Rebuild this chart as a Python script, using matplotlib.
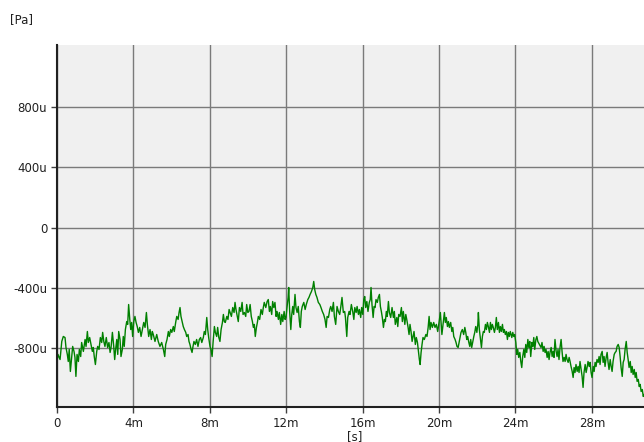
import matplotlib
matplotlib.use("Agg")
import matplotlib.pyplot as plt
from matplotlib.ticker import FixedLocator
import numpy as np

# ---- data (time in ms, pressure in micro-pascal) ----
t_ms_a = [0.00, 0.05, 0.16, 0.25, 0.33, 0.42, 0.47, 0.54, 0.59, 0.64, 0.70, 0.77, 0.82, 0.89,
          0.94, 0.99, 1.05, 1.12, 1.17, 1.24, 1.29, 1.38, 1.47, 1.52, 1.59, 1.64, 1.71, 1.78,
          1.85, 1.90, 1.95, 2.01, 2.08, 2.13, 2.20, 2.27, 2.34, 2.39, 2.45, 2.51, 2.58, 2.65,
          2.72, 2.78, 2.83, 2.90, 2.97, 3.02, 3.07, 3.13, 3.18, 3.23, 3.30, 3.35, 3.42, 3.47,
          3.52, 3.58, 3.65, 3.70, 3.75, 3.81, 3.86, 3.91, 3.96, 4.02, 4.08, 4.14, 4.20, 4.26,
          4.33, 4.40, 4.47, 4.54, 4.61, 4.68, 4.73, 4.80, 4.87, 4.94, 4.99, 5.04, 5.13]
p_upa_a = [-889, -842, -876, -756, -723, -730, -796, -842, -889, -809, -955, -856, -789, -822,
           -862, -988, -842, -889, -809, -856, -763, -822, -743, -789, -690, -763, -730, -776,
           -822, -796, -856, -909, -822, -789, -809, -730, -763, -696, -756, -789, -730, -796,
           -763, -829, -796, -696, -789, -876, -809, -743, -842, -690, -743, -856, -809, -723,
           -789, -677, -624, -643, -511, -610, -677, -630, -723, -624, -590, -630, -657, -696,
           -663, -723, -677, -630, -663, -564, -643, -723, -677, -743, -690, -710, -756]

t_ms_b = [5.22, 5.30, 5.39, 5.48, 5.57, 5.64, 5.69, 5.76, 5.83, 5.88, 5.95, 6.01, 6.09, 6.14,
          6.22, 6.27, 6.34, 6.39, 6.44, 6.49, 6.55, 6.61, 6.67, 6.74, 6.79, 6.86, 6.91, 6.96,
          7.02, 7.07, 7.12, 7.17, 7.24, 7.31, 7.38, 7.45, 7.52, 7.58, 7.66, 7.71, 7.77, 7.84,
          7.89, 7.94, 8.01, 8.06, 8.12, 8.17, 8.24, 8.29, 8.36, 8.41, 8.47, 8.53, 8.59, 8.66,
          8.71, 8.76, 8.81, 8.89, 8.95, 9.01, 9.06, 9.13, 9.20, 9.27, 9.32, 9.37, 9.44, 9.49,
          9.55, 9.62, 9.69, 9.74, 9.81, 9.88, 9.93, 9.99, 10.05]
p_upa_b = [-710, -756, -789, -763, -809, -856, -776, -743, -690, -723, -677, -696, -657, -690,
           -624, -590, -610, -564, -531, -590, -624, -657, -677, -696, -723, -710, -756, -776,
           -809, -829, -789, -756, -776, -743, -789, -743, -730, -763, -730, -690, -710, -597,
           -677, -730, -789, -809, -856, -763, -657, -696, -723, -663, -730, -756, -677, -630,
           -577, -624, -630, -590, -610, -544, -564, -590, -531, -564, -497, -544, -590, -624,
           -531, -557, -497, -577, -564, -590, -511, -564, -557]

t_ms_c = [10.11, 10.17, 10.23, 10.28, 10.33, 10.38, 10.44, 10.49, 10.54, 10.61, 10.68, 10.75,
          10.80, 10.85, 10.93, 11.00, 11.06, 11.12, 11.17, 11.24, 11.29, 11.35, 11.41, 11.47,
          11.52, 11.59, 11.64, 11.71, 11.77, 11.82, 11.89, 11.94, 11.99, 12.04, 12.10, 12.13,
          12.18, 12.24, 12.29, 12.34, 12.39, 12.46, 12.51, 12.57, 12.63, 12.69, 12.74, 12.79,
          12.84, 12.92, 12.99, 13.05, 13.13, 13.19, 13.25, 13.32, 13.39, 13.44, 13.49, 13.55,
          13.61, 13.68, 13.76, 13.82, 13.89, 13.96, 14.03, 14.09, 14.14, 14.21, 14.28, 14.33,
          14.40, 14.47, 14.52, 14.59, 14.66, 14.73, 14.80, 14.86, 14.92, 14.99]
p_upa_c = [-511, -590, -624, -663, -643, -723, -663, -630, -590, -610, -544, -577,
           -531, -497, -531, -491, -478, -557, -524, -577, -491, -531, -497, -590,
           -557, -610, -564, -643, -577, -624, -557, -610, -597, -531, -464, -398,
           -557, -677, -577, -524, -577, -444, -531, -564, -524, -624, -663, -557,
           -524, -497, -544, -511, -478, -464, -444, -425, -398, -358, -411, -444,
           -464, -497, -511, -531, -557, -577, -610, -663, -590, -597, -544, -524,
           -557, -497, -590, -643, -524, -557, -577, -524, -464, -564]

t_ms_d = [15.06, 15.10, 15.17, 15.22, 15.29, 15.34, 15.41, 15.48, 15.54, 15.59, 15.66, 15.71,
          15.78, 15.83, 15.90, 15.95, 16.01, 16.06, 16.11, 16.16, 16.22, 16.28, 16.35, 16.40,
          16.44, 16.49, 16.55, 16.60, 16.65, 16.70, 16.77, 16.82, 16.88, 16.93, 16.98, 17.03,
          17.09, 17.14, 17.19, 17.24, 17.29, 17.35, 17.40, 17.47, 17.54, 17.61, 17.66, 17.71,
          17.79, 17.84, 17.89, 17.96, 18.03, 18.08, 18.13, 18.21, 18.26, 18.31, 18.38, 18.43,
          18.48, 18.54, 18.59, 18.64, 18.69, 18.76, 18.81, 18.87, 18.92, 18.97, 19.01, 19.06,
          19.11, 19.16, 19.23, 19.31, 19.37, 19.43, 19.48, 19.53, 19.58, 19.65, 19.72, 19.79,
          19.86, 19.93, 20.00]
p_upa_d = [-557, -597, -723, -597, -557, -577, -511, -557, -610, -531, -564, -524,
           -577, -544, -597, -531, -577, -478, -458, -531, -491, -557, -497, -478,
           -398, -511, -597, -524, -531, -478, -497, -464, -444, -524, -557, -597,
           -663, -610, -624, -557, -590, -491, -564, -597, -531, -597, -557, -643,
           -597, -657, -577, -590, -531, -624, -557, -643, -577, -610, -663, -710,
           -643, -696, -756, -723, -690, -776, -730, -763, -822, -876, -909, -829,
           -776, -730, -743, -710, -723, -663, -590, -677, -630, -663, -630, -663,
           -643, -690, -630]

t_ms_e = [20.07, 20.15, 20.21, 20.28, 20.33, 20.38, 20.44, 20.49, 20.54, 20.61, 20.67, 20.72,
          20.77, 20.84, 20.89, 20.94, 21.00, 21.05, 21.10, 21.15, 21.22, 21.29, 21.35, 21.40,
          21.45, 21.50, 21.56, 21.61, 21.66, 21.71, 21.77, 21.82, 21.87, 21.92, 21.98, 22.03,
          22.06, 22.11, 22.16, 22.22, 22.27, 22.32, 22.37, 22.43, 22.48, 22.53, 22.58, 22.64,
          22.69, 22.74, 22.79, 22.84, 22.90, 22.95, 23.00, 23.05, 23.11, 23.16, 23.21, 23.26,
          23.32, 23.37, 23.42, 23.47, 23.53, 23.58, 23.63, 23.68, 23.73, 23.81, 23.86, 23.91,
          23.96, 24.02, 24.07, 24.12, 24.17, 24.23, 24.28, 24.33, 24.38, 24.44, 24.49, 24.54,
          24.59, 24.65, 24.70, 24.75, 24.80, 24.86, 24.91, 24.96, 25.01, 25.07, 25.12, 25.17]
p_upa_e = [-564, -710, -643, -564, -630, -597, -657, -624, -663, -630, -690, -663,
           -723, -743, -763, -789, -796, -763, -730, -696, -677, -710, -663, -696,
           -743, -723, -763, -789, -743, -796, -756, -723, -696, -657, -696, -643,
           -564, -677, -730, -796, -723, -690, -696, -643, -677, -630, -657, -696,
           -630, -677, -643, -663, -696, -663, -597, -677, -630, -696, -657, -690,
           -643, -696, -677, -710, -690, -743, -696, -723, -690, -730, -696, -723,
           -710, -763, -842, -809, -862, -829, -889, -929, -856, -809, -862, -776,
           -829, -743, -796, -756, -856, -763, -789, -730, -809, -743, -723, -756]

t_ms_f = [25.34, 25.39, 25.45, 25.50, 25.55, 25.60, 25.66, 25.71, 25.76, 25.81, 25.87, 25.92,
          25.97, 26.02, 26.07, 26.13, 26.18, 26.23, 26.28, 26.34, 26.39, 26.44, 26.49, 26.55,
          26.60, 26.65, 26.70, 26.76, 26.81, 26.86, 26.91, 26.97, 27.02, 27.07, 27.12, 27.17,
          27.23, 27.28, 27.33, 27.38, 27.44, 27.49, 27.54, 27.59, 27.65, 27.70, 27.75, 27.80,
          27.86, 27.91, 27.96, 28.01, 28.07, 28.12, 28.17, 28.22, 28.27, 28.33, 28.38, 28.43,
          28.48, 28.54, 28.59, 28.64, 28.69, 28.75, 28.80, 28.85, 28.90, 28.96, 29.01, 29.06,
          29.11, 29.17, 29.22, 29.27, 29.32, 29.38, 29.43, 29.48, 29.53, 29.59, 29.64, 29.69,
          29.74, 29.80, 29.85, 29.90, 29.95, 30.01, 30.06, 30.11, 30.16, 30.22, 30.27, 30.32,
          30.37, 30.43, 30.48, 30.53, 30.58, 30.64, 30.69, 30.74]
p_upa_f = [-796, -763, -822, -789, -829, -809, -862, -822, -876, -829, -796, -856,
           -822, -862, -743, -822, -856, -809, -876, -789, -743, -822, -889, -862,
           -889, -842, -876, -895, -862, -889, -922, -955, -995, -929, -962, -909,
           -955, -922, -962, -889, -942, -988, -1061, -962, -909, -962, -929, -889,
           -922, -895, -962, -995, -922, -955, -895, -922, -876, -895, -856, -909,
           -842, -822, -895, -856, -922, -862, -829, -895, -942, -876, -922, -955,
           -889, -842, -829, -822, -789, -776, -796, -856, -929, -988, -895, -876,
           -809, -756, -829, -876, -929, -889, -962, -922, -975, -942, -995, -962,
           -1021, -1008, -1055, -1041, -1088, -1075, -1121, -1108]

x_ticks_ms = [0, 4, 8, 12, 16, 20, 24, 28]
x_tick_labels = ["0", "4m", "8m", "12m", "16m", "20m", "24m", "28m"]
y_ticks_upa = [-800, -400, 0, 400, 800]
y_tick_labels = ["-800u", "-400u", "0", "400u", "800u"]

t = np.array(t_ms_a + t_ms_b + t_ms_c + t_ms_d + t_ms_e + t_ms_f) * 1e-3
p = np.array(p_upa_a + p_upa_b + p_upa_c + p_upa_d + p_upa_e + p_upa_f) * 1e-6

fig = plt.figure(figsize=(6.44, 4.42), dpi=100)
ax = fig.add_axes([57 / 644, 1 - 407 / 442, 1 - 57 / 644, (407 - 45) / 442])
ax.set_facecolor("#f0f0f0")

ax.plot(t, p, color="#008000", linewidth=1.0)

ax.set_xlim(0, 0.03073)
ax.set_ylim(-1191e-6, 1211e-6)

ax.xaxis.set_major_locator(FixedLocator([v * 1e-3 for v in x_ticks_ms]))
ax.yaxis.set_major_locator(FixedLocator([v * 1e-6 for v in y_ticks_upa]))
ax.set_xticklabels(x_tick_labels)
ax.set_yticklabels(y_tick_labels)

ax.grid(True, color="#7a7a7a", linewidth=1.0)
ax.set_axisbelow(True)

for s in ["top", "right"]:
    ax.spines[s].set_visible(False)
for s in ["left", "bottom"]:
    ax.spines[s].set_color("#202020")
    ax.spines[s].set_linewidth(1.5)

ax.tick_params(axis="both", direction="out", length=4, width=1, color="#404040",
               labelsize=8.5, labelcolor="#202020", pad=3)

fig.text(10 / 644, 1 - 20 / 442, "[Pa]", fontsize=8.5, color="#202020", va="center", ha="left")
fig.text(355 / 644, 1 - 437 / 442, "[s]", fontsize=8.5, color="#202020", va="center", ha="center")

fig.savefig("out.png", dpi=100, facecolor="white")
